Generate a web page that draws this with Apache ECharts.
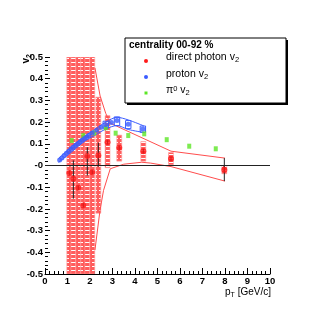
<!DOCTYPE html>
<html><head><meta charset="utf-8">
<script src="https://cdn.jsdelivr.net/npm/echarts@6/dist/echarts.min.js"></script>
<style>html,body{margin:0;padding:0;background:#fff}#c{width:316px;height:332px}</style>
</head><body><div id="c"></div>
<script>
// ---- data ----
const xTickLabels = [0,1,2,3,4,5,6,7,8,9,10];
const yTickLabels = [-0.5,-0.4,-0.3,-0.2,-0.1,0,0.1,0.2,0.3,0.4,0.5];

// direct photon v2
const photonX     = [1.08, 1.26, 1.48, 1.70, 1.88, 2.10, 2.37, 2.78, 3.30, 4.37, 5.60, 7.97];
const photonY     = [-0.035,-0.061,-0.103,-0.184,0.043,-0.031,0.046,0.107,0.082,0.066,0.031,-0.020];
const photonStatLo= [-0.045,-0.153,-0.113,-0.194,-0.046,-0.041,-0.005,0.097,0.072,0.056,0.021,-0.072];
const photonStatHi= [-0.025, 0.023,-0.093,-0.174,0.084,-0.021,0.105,0.117,0.092,0.076,0.041,0.034];
const photonSysLo = [-0.6,-0.6,-0.6,-0.6,-0.6,-0.6,-0.22,-0.010,0.020,0.020,0.003,-0.038];
const photonSysHi = [0.6, 0.6, 0.6, 0.6, 0.6, 0.6, 0.315,0.230,0.140,0.110,0.060,0.000];

// envelope lines around direct photon v2
const envUpX = [2.22, 2.45, 2.70, 2.90, 5.60, 8.00];
const envUpY = [0.450, 0.320, 0.240, 0.195, 0.066, 0.034];
const envLoX = [2.22, 2.44, 2.60, 2.90, 3.50, 4.30, 4.70, 5.60, 8.00];
const envLoY = [-0.390,-0.210,-0.115,-0.015,0.006,0.015,0.011,-0.005,-0.072];

// proton v2
const protonX = [0.65,0.75,0.85,0.95,1.05,1.15,1.25,1.35,1.45,1.55,1.65,1.75,1.85,1.95,2.10,2.30,2.50,2.70,2.95,3.20,3.70,4.35];
const protonY = [0.025,0.035,0.046,0.056,0.066,0.076,0.084,0.092,0.100,0.108,0.116,0.124,0.131,0.138,0.150,0.163,0.176,0.188,0.198,0.207,0.190,0.168];
const protonBandX  = [0.60,1.20,1.80,2.20,2.70,3.20,3.70,4.40];
const protonBandUp = [0.032,0.088,0.138,0.165,0.200,0.222,0.210,0.182];
const protonBandLo = [0.014,0.064,0.115,0.138,0.168,0.184,0.166,0.152];
const protonBoxX  = [2.70, 3.20, 3.70, 4.35];
const protonBoxLo = [0.172,0.184,0.170,0.153];
const protonBoxHi = [0.204,0.224,0.207,0.182];

// pi0 v2
const pi0X = [1.19,1.70,2.19,2.70,3.14,3.70,4.41,5.41,6.41,7.59];
const pi0Y = [0.115,0.138,0.150,0.174,0.149,0.138,0.146,0.119,0.089,0.077];

// ---- rendering ----
const RED = '#ff1a1a', BLUE = '#3a5cff', GREEN = '#5ce626';
const BOX_HW = 0.11, PBOX_HW = 0.12;
const TICK_FONT = "'Liberation Sans Narrow','Liberation Sans',Arial,sans-serif";
const FONT = "'Liberation Sans',Arial,sans-serif";

function hatchCanvas(){
  const c = document.createElement('canvas'); c.width = 7; c.height = 4;
  const g = c.getContext('2d');
  g.fillStyle = '#ff5c5c'; g.fillRect(0,0,7,4);
  g.fillStyle = '#ffffff'; g.fillRect(1,2,5,1);
  return c;
}
const hatch = {image: hatchCanvas(), repeat: 'repeat'};

const zip = (...a) => a[0].map((_, i) => a.map(arr => arr[i]));

function clipRect(r, cs){
  return echarts.graphic.clipRectByRect(r, {x: cs.x, y: cs.y, width: cs.width, height: cs.height});
}

const chart = echarts.init(document.getElementById('c'), null, {renderer: 'canvas'});

const option = {
  animation: false,
  backgroundColor: '#fff',
  grid: {left: 45, right: 46, top: 57, bottom: 58, containLabel: false},
  xAxis: {
    type: 'value', min: xTickLabels[0], max: xTickLabels[xTickLabels.length-1], interval: 1,
    axisLine: {show: true, onZero: false, lineStyle: {color: '#000', width: 1}},
    axisTick: {show: true, inside: true, length: 6, lineStyle: {color: '#000'}},
    minorTick: {show: true, splitNumber: 5, length: 3, lineStyle: {color: '#000'}},
    splitLine: {show: false}, minorSplitLine: {show: false},
    axisLabel: {margin: 2, fontSize: 9.5, fontWeight: 'bold', color: '#000', fontFamily: TICK_FONT,
      formatter: v => String(Math.round(v))}
  },
  yAxis: {
    type: 'value', min: yTickLabels[0], max: yTickLabels[yTickLabels.length-1], interval: 0.1,
    axisLine: {show: false, onZero: false},
    axisTick: {show: true, inside: true, length: 5, lineStyle: {color: '#000'}},
    minorTick: {show: true, splitNumber: 5, length: 3, lineStyle: {color: '#000'}},
    splitLine: {show: false}, minorSplitLine: {show: false},
    axisLabel: {margin: 2, fontSize: 9.5, fontWeight: 'bold', color: '#000', fontFamily: TICK_FONT,
      formatter: v => Math.abs(v) < 1e-9 ? '-0' : v.toFixed(1)}
  },
  series: [
    { // red systematic boxes
      type: 'custom', z: 2, clip: true,
      data: zip(photonX, photonSysLo, photonSysHi),
      renderItem(params, api){
        const x = api.value(0), lo = api.value(1), hi = api.value(2);
        const p1 = api.coord([x - BOX_HW, hi]), p2 = api.coord([x + BOX_HW, lo]);
        const r = clipRect({x: p1[0], y: p1[1], width: p2[0]-p1[0], height: p2[1]-p1[1]}, params.coordSys);
        if (!r) return null;
        return {type: 'rect', shape: r, style: {fill: hatch, stroke: '#ff9d9d', lineWidth: 0.6}};
      }
    },
    { // envelope upper
      type: 'line', z: 3, data: zip(envUpX, envUpY), showSymbol: false, symbol: 'none',
      lineStyle: {color: '#ff4d4d', width: 1}, silent: true
    },
    { // envelope lower
      type: 'line', z: 3, data: zip(envLoX, envLoY), showSymbol: false, symbol: 'none',
      lineStyle: {color: '#ff4d4d', width: 1}, silent: true,
      markLine: {silent: true, symbol: 'none', label: {show: false},
        lineStyle: {color: '#222', width: 1, type: 'solid'}, data: [{yAxis: 0}]}
    },
    { // proton band upper
      type: 'line', z: 4, data: zip(protonBandX, protonBandUp), symbol: 'none', smooth: 0.3,
      lineStyle: {color: BLUE, width: 1}, silent: true
    },
    { // proton band lower
      type: 'line', z: 4, data: zip(protonBandX, protonBandLo), symbol: 'none', smooth: 0.3,
      lineStyle: {color: BLUE, width: 1}, silent: true
    },
    { // proton sys boxes (outline)
      type: 'custom', z: 4, clip: true,
      data: zip(protonBoxX, protonBoxLo, protonBoxHi),
      renderItem(params, api){
        const x = api.value(0), lo = api.value(1), hi = api.value(2);
        const p1 = api.coord([x - PBOX_HW, hi]), p2 = api.coord([x + PBOX_HW, lo]);
        return {type: 'rect', shape: {x: p1[0], y: p1[1], width: p2[0]-p1[0], height: p2[1]-p1[1]},
          style: {fill: 'none', stroke: BLUE, lineWidth: 1}};
      }
    },
    { // black stat error bars
      type: 'custom', z: 5, clip: true,
      data: zip(photonX, photonStatLo, photonStatHi),
      renderItem(params, api){
        const x = api.value(0);
        const a = api.coord([x, api.value(1)]), b = api.coord([x, api.value(2)]);
        return {type: 'line', shape: {x1: a[0], y1: a[1], x2: b[0], y2: b[1]},
          style: {stroke: '#222', lineWidth: 1}};
      }
    },
    { // pi0
      type: 'scatter', z: 6, data: zip(pi0X, pi0Y), symbol: 'rect', symbolSize: [4, 5],
      itemStyle: {color: GREEN}, silent: true
    },
    { // proton
      type: 'scatter', z: 7, data: zip(protonX, protonY), symbol: 'circle', symbolSize: 5,
      itemStyle: {color: BLUE}, silent: true
    },
    { // direct photon
      type: 'scatter', z: 8, data: zip(photonX, photonY), symbol: 'circle', symbolSize: 6,
      itemStyle: {color: RED}, silent: true
    }
  ],
  graphic: [
    // legend shadow + box
    {type: 'rect', z: 100, shape: {x: 127, y: 40, width: 161, height: 65}, style: {fill: '#000'}},
    {type: 'rect', z: 101, shape: {x: 125, y: 38, width: 161, height: 65}, style: {fill: '#fff', stroke: '#000', lineWidth: 1}},
    {type: 'text', z: 102, x: 129, y: 45, style: {text: 'centrality 00-92 %', font: 'bold 10px ' + FONT, fill: '#000', verticalAlign: 'middle'}},
    {type: 'circle', z: 102, shape: {cx: 146, cy: 61, r: 2}, style: {fill: RED}},
    {type: 'circle', z: 102, shape: {cx: 146, cy: 77, r: 2}, style: {fill: BLUE}},
    {type: 'rect', z: 102, shape: {x: 144.5, y: 91.5, width: 3, height: 3}, style: {fill: GREEN}},
    {type: 'text', z: 102, x: 166, y: 52, style: {
      text: '{a|direct photon v}{s|2}',
      rich: {a: {font: '10.5px ' + FONT, fill: '#000', lineHeight: 12, verticalAlign: 'top'},
             s: {font: '7.5px ' + FONT, fill: '#000', lineHeight: 9, verticalAlign: 'bottom', padding: [6,0,0,0]}}}},
    {type: 'text', z: 102, x: 166, y: 69, style: {
      text: '{a|proton v}{s|2}',
      rich: {a: {font: '10.5px ' + FONT, fill: '#000', lineHeight: 12, verticalAlign: 'top'},
             s: {font: '7.5px ' + FONT, fill: '#000', lineHeight: 9, verticalAlign: 'bottom', padding: [6,0,0,0]}}}},
    {type: 'text', z: 102, x: 166, y: 85, style: {
      text: '{a|π}{p|0}{a| v}{s|2}',
      rich: {a: {font: '10.5px ' + FONT, fill: '#000', lineHeight: 12, verticalAlign: 'top'},
             p: {font: '7.5px ' + FONT, fill: '#000', lineHeight: 8, verticalAlign: 'top'},
             s: {font: '7.5px ' + FONT, fill: '#000', lineHeight: 9, verticalAlign: 'bottom', padding: [6,0,0,0]}}}},
    // axis titles
    {type: 'text', z: 102, x: 271, y: 287, style: {
      text: '{a|p}{s|T}{a| [GeV/c]}', align: 'right',
      rich: {a: {font: '10px ' + FONT, fill: '#000', lineHeight: 12, verticalAlign: 'top'},
             s: {font: '7px ' + FONT, fill: '#000', lineHeight: 8, verticalAlign: 'bottom', padding: [6,0,0,0]}}}},
    {type: 'text', z: 102, x: 21, y: 54, rotation: Math.PI/2, style: {
      text: '{a|v}{s|2}', align: 'right', verticalAlign: 'top',
      rich: {a: {font: 'bold 10px ' + FONT, fill: '#000', lineHeight: 12, verticalAlign: 'top'},
             s: {font: 'bold 7px ' + FONT, fill: '#000', lineHeight: 8, verticalAlign: 'bottom', padding: [5,0,0,0]}}}}
  ]
};
chart.setOption(option);
</script>
</body></html>
